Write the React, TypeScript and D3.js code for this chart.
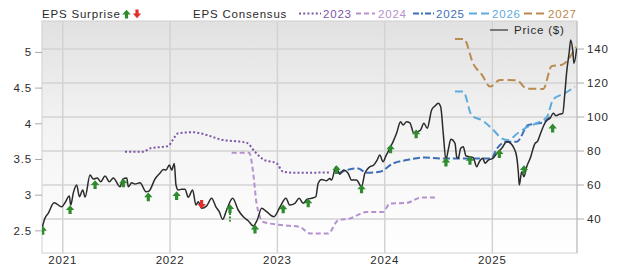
import React from "react";
import * as d3 from "d3";

// ---- data (decimal years) ----
const priceYears = [2020.804,2020.835,2020.866,2020.919,2020.991,2021.021,2021.061,2021.074,2021.099,2021.130,2021.155,2021.186,2021.208,2021.254,2021.285,2021.322,2021.354,2021.394,2021.434,2021.471,2021.534,2021.559,2021.596,2021.611,2021.642,2021.673,2021.720,2021.776,2021.806,2021.859,2021.906,2021.937,2021.962,2021.993,2022.015,2022.039,2022.055,2022.076,2022.108,2022.139,2022.169,2022.210,2022.241,2022.263,2022.294,2022.341,2022.387,2022.427,2022.458,2022.490,2022.527,2022.583,2022.635,2022.682,2022.728,2022.775,2022.812,2022.853,2022.899,2022.967,2023.023,2023.079,2023.116,2023.163,2023.203,2023.240,2023.277,2023.318,2023.358,2023.380,2023.412,2023.458,2023.489,2023.505,2023.545,2023.582,2023.619,2023.659,2023.691,2023.737,2023.784,2023.815,2023.861,2023.898,2023.929,2023.954,2023.985,2024.010,2024.047,2024.078,2024.110,2024.147,2024.171,2024.203,2024.234,2024.271,2024.302,2024.333,2024.364,2024.395,2024.436,2024.467,2024.497,2024.520,2024.544,2024.569,2024.590,2024.615,2024.653,2024.669,2024.683,2024.706,2024.730,2024.755,2024.786,2024.823,2024.855,2024.879,2024.911,2024.932,2024.963,2025.004,2025.041,2025.088,2025.134,2025.171,2025.202,2025.227,2025.242,2025.251,2025.274,2025.295,2025.320,2025.358,2025.376,2025.398,2025.419,2025.444,2025.481,2025.507,2025.537,2025.568,2025.593,2025.624,2025.656,2025.677,2025.693,2025.717,2025.730,2025.749,2025.761,2025.786];
const priceValues = [33.5,40.6,43.5,49.6,47.2,49.6,53.5,48.2,55.5,60.0,53.1,57.1,52.9,65.9,63.5,64.1,61.9,65.3,61.9,64.1,59.0,63.5,64.1,59.0,61.3,60.6,61.3,56.0,56.6,63.5,67.0,69.2,68.8,71.8,68.8,72.7,60.0,57.1,57.5,57.5,52.8,57.1,48.2,50.2,46.3,47.7,52.2,47.2,44.3,39.8,45.3,52.2,45.3,41.3,39.0,35.9,39.4,46.3,44.3,41.3,46.9,52.2,48.2,49.2,52.2,49.2,51.6,52.2,53.1,61.0,63.3,62.5,63.9,62.9,70.7,66.4,68.8,66.9,62.9,62.9,59.0,66.9,70.7,71.8,74.7,77.6,73.7,77.0,81.6,85.5,90.4,97.2,95.3,97.2,96.6,90.4,91.3,92.4,96.3,93.4,104.1,106.5,108.1,106.1,90.4,74.7,80.6,86.9,84.5,76.6,75.7,81.6,82.5,77.2,76.6,76.0,70.7,73.7,75.7,72.8,74.7,75.7,78.6,81.6,85.5,84.5,81.6,76.6,67.8,60.0,67.8,64.9,70.7,76.6,80.6,84.5,85.5,89.4,95.3,98.2,99.2,102.2,100.8,101.6,102.2,114.9,126.6,138.4,145.3,139.4,131.6,140.4];

const cons2023Years = [2021.580,2021.750,2021.813,2021.983,2022.024,2022.076,2022.216,2022.341,2022.465,2022.713,2022.791,2022.868,2022.993,2023.054,2023.179,2023.489];
const cons2023Eps = [3.608,3.608,3.656,3.688,3.772,3.867,3.881,3.843,3.782,3.735,3.608,3.501,3.445,3.327,3.313,3.319];

const cons2024Years = [2022.574,2022.737,2022.775,2022.806,2022.868,2023.054,2023.209,2023.303,2023.473,2023.566,2023.675,2023.831,2023.985,2024.047,2024.203,2024.343,2024.482];
const cons2024Eps = [3.594,3.594,3.305,2.883,2.625,2.579,2.555,2.462,2.462,2.649,2.673,2.765,2.765,2.883,2.892,2.968,2.968];

const cons2025Years = [2023.566,2023.644,2023.752,2023.831,2023.954,2024.078,2024.203,2024.373,2024.513,2024.699,2024.994,2025.034,2025.134,2025.227,2025.335,2025.428,2025.491,2025.537];
const cons2025Eps = [3.305,3.351,3.375,3.313,3.327,3.445,3.492,3.529,3.515,3.515,3.515,3.632,3.749,3.749,3.983,4.007,4.029,4.100];

const cons2026Years = [2024.653,2024.730,2024.808,2024.916,2025.009,2025.088,2025.146,2025.239,2025.332,2025.444,2025.509,2025.568,2025.677,2025.770];
const cons2026Eps = [4.451,4.451,4.117,4.039,3.913,3.796,3.772,3.871,3.959,4.029,4.096,4.344,4.428,4.521];

const cons2027Years = [2024.653,2024.736,2024.823,2024.904,2024.979,2025.072,2025.227,2025.320,2025.475,2025.553,2025.649,2025.779];
const cons2027Eps = [5.187,5.187,4.840,4.685,4.521,4.615,4.611,4.493,4.489,4.808,4.826,5.079];

const surpriseYears = [2020.814,2021.068,2021.301,2021.564,2021.797,2022.061,2022.294,2022.558,2022.791,2023.054,2023.287,2023.551,2023.784,2024.054,2024.292,2024.569,2024.792,2025.065,2025.295,2025.562];
const surprisePrice = [33.1,45.3,60.0,61.0,52.8,53.5,48.8,45.9,33.9,45.7,49.2,68.8,57.5,81.0,89.9,73.3,74.3,78.2,68.8,93.3];
const surpriseBeat = [1,1,1,1,1,1,0,1,1,1,1,1,1,1,1,1,1,1,1,1];
const surpriseStemLow = [null,null,null,null,null,null,null,38.5,null,null,null,null,null,null,null,null,null,null,null,null];

const epsTicks = [2.5, 3, 3.5, 4, 4.5, 5];
const priceTicks = [40, 60, 80, 100, 120, 140];
const yearTicks = [2021, 2022, 2023, 2024, 2025];

const seriesNames = ["2023", "2024", "2025", "2026", "2027"];
const seriesColors = ["#7d55a5", "#b592cf", "#3d6fb8", "#5eaadd", "#b98b4e"];
const seriesDash = ["2,2.2", "5,3", "7,3", "8,4", "8,4"];

// ---- layout ----
const W = 620, H = 273;
const L = 42, R = 577, T = 21, B = 253;
const FONT = "'Liberation Sans', Arial, Helvetica, sans-serif";

function yearToDate(y: number): Date {
  const yr = Math.floor(y);
  const s = Date.UTC(yr, 0, 1), e = Date.UTC(yr + 1, 0, 1);
  return new Date(s + (y - yr) * (e - s));
}

export default function App() {
  const x = d3.scaleTime().domain([yearToDate(2020.807), yearToDate(2025.789)]).range([L, R]);
  const yE = d3.scaleLinear().domain([2.19, 5.44]).range([B, T]);
  const yP = d3.scaleLinear().domain([20, 156.5]).range([B, T]);

  const priceLine = d3.line<number>()
    .x((_, i) => x(yearToDate(priceYears[i])))
    .y((v) => yP(v))
    .curve(d3.curveMonotoneX);

  const consData = [
    [cons2023Years, cons2023Eps],
    [cons2024Years, cons2024Eps],
    [cons2025Years, cons2025Eps],
    [cons2026Years, cons2026Eps],
    [cons2027Years, cons2027Eps],
  ];

  const consLine = (years: number[], eps: number[]) =>
    d3.line<number>()
      .x((_, i) => x(yearToDate(years[i])))
      .y((v) => yE(v))
      .curve(d3.curveMonotoneX)(eps) || "";

  const upArrow = (cx: number, cy: number) =>
    `M${cx - 4.2},${cy} L${cx},${cy - 4.8} L${cx + 4.2},${cy} L${cx + 1.6},${cy} L${cx + 1.6},${cy + 4} L${cx - 1.6},${cy + 4} L${cx - 1.6},${cy} Z`;
  const downArrow = (cx: number, cy: number) =>
    `M${cx - 4.2},${cy} L${cx},${cy + 4.8} L${cx + 4.2},${cy} L${cx + 1.6},${cy} L${cx + 1.6},${cy - 4} L${cx - 1.6},${cy - 4} L${cx - 1.6},${cy} Z`;

  const textStyle = { fontFamily: FONT, fontSize: 11.5, letterSpacing: 0.8 } as const;

  const legendItems = [
    { x1: 299, x2: 321, tx: 323 },
    { x1: 356, x2: 375, tx: 378 },
    { x1: 413, x2: 434, tx: 436 },
    { x1: 469, x2: 489, tx: 492 },
    { x1: 524, x2: 545, tx: 548 },
  ];

  return (
    <svg width={W} height={H} style={{ position: "absolute", left: 0, top: 0, background: "#fff" }}>
      <defs>
        <linearGradient id="bg" x1="0" y1="0" x2="0" y2="1">
          <stop offset="0%" stopColor="#e1e1e1" />
          <stop offset="45%" stopColor="#f3f3f3" />
          <stop offset="100%" stopColor="#ffffff" />
        </linearGradient>
        <clipPath id="plot">
          <rect x={L} y={T} width={R - L} height={B - T} />
        </clipPath>
      </defs>

      {/* header legend */}
      <text x={42} y={18} fill="#2a2a2a" style={textStyle}>EPS Surprise</text>
      <path d={upArrow(126.5, 14.5)} fill="#2e8b2e" />
      <path d={downArrow(137, 13.5)} fill="#e0302a" />
      <text x={193} y={18} fill="#2a2a2a" style={textStyle}>EPS Consensus</text>
      {legendItems.map((it, i) => (
        <g key={seriesNames[i]}>
          <line x1={it.x1} x2={it.x2} y1={13.5} y2={13.5} stroke={seriesColors[i]} strokeWidth={2}
            strokeDasharray={i === 2 ? "6,2,2,2" : seriesDash[i]} />
          <text x={it.tx} y={18} fill={seriesColors[i]} style={textStyle}>{seriesNames[i]}</text>
        </g>
      ))}

      {/* plot background */}
      <rect x={L} y={T} width={R - L} height={B - T} fill="url(#bg)" />

      {/* grid */}
      {priceTicks.map((t) => (
        <line key={"h" + t} x1={L} x2={R} y1={yP(t)} y2={yP(t)} stroke="#d3d3d3" strokeWidth={1.5} />
      ))}
      {yearTicks.map((t) => (
        <line key={"v" + t} x1={x(yearToDate(t))} x2={x(yearToDate(t))} y1={T} y2={B} stroke="#d3d3d3" strokeWidth={1.5} />
      ))}
      <rect x={L} y={T} width={R - L} height={B - T} fill="none" stroke="#cfcfcf" strokeWidth={1} />
      <line x1={R} x2={R} y1={T} y2={B} stroke="#bdbdbd" strokeWidth={1} />

      {/* price legend */}
      <line x1={490} x2={508} y1={30} y2={30} stroke="#555" strokeWidth={1.5} />
      <text x={514} y={34} fill="#2a2a2a" style={textStyle}>Price ($)</text>

      <g clipPath="url(#plot)">
        {consData.map(([yrs, eps], i) => (
          <path key={"c" + i} d={consLine(yrs as number[], eps as number[])} fill="none"
            stroke={seriesColors[i]} strokeWidth={2} strokeDasharray={seriesDash[i]} />
        ))}
        <path d={priceLine(priceValues) || ""} fill="none" stroke="#2b2b2b" strokeWidth={1.5} strokeLinejoin="round" />
        {surpriseYears.map((yr, i) => {
          const cx = x(yearToDate(yr));
          const cy = yP(surprisePrice[i]);
          const low = surpriseStemLow[i];
          return (
            <g key={"s" + i}>
              {low != null && (
                <line x1={cx} x2={cx} y1={cy + 4} y2={yP(low)} stroke="#2e8b2e" strokeWidth={2} strokeDasharray="2,1.5" />
              )}
              <path d={surpriseBeat[i] ? upArrow(cx, cy) : downArrow(cx, cy)} fill={surpriseBeat[i] ? "#2e8b2e" : "#e0302a"} />
            </g>
          );
        })}
      </g>

      {/* left axis */}
      {epsTicks.map((t) => (
        <g key={"l" + t}>
          <line x1={35} x2={L} y1={yE(t)} y2={yE(t)} stroke="#aaa" />
          <text x={32} y={yE(t) + 4} textAnchor="end" fill="#2a2a2a" style={textStyle}>{t}</text>
        </g>
      ))}
      {/* right axis */}
      {priceTicks.map((t) => (
        <g key={"r" + t}>
          <line x1={R} x2={584} y1={yP(t)} y2={yP(t)} stroke="#aaa" />
          <text x={587} y={yP(t) + 4} fill="#2a2a2a" style={textStyle}>{t}</text>
        </g>
      ))}
      {/* x axis labels */}
      {yearTicks.map((t) => (
        <text key={"x" + t} x={x(yearToDate(t))} y={263.5} textAnchor="middle" fill="#2a2a2a" style={textStyle}>{t}</text>
      ))}
    </svg>
  );
}
